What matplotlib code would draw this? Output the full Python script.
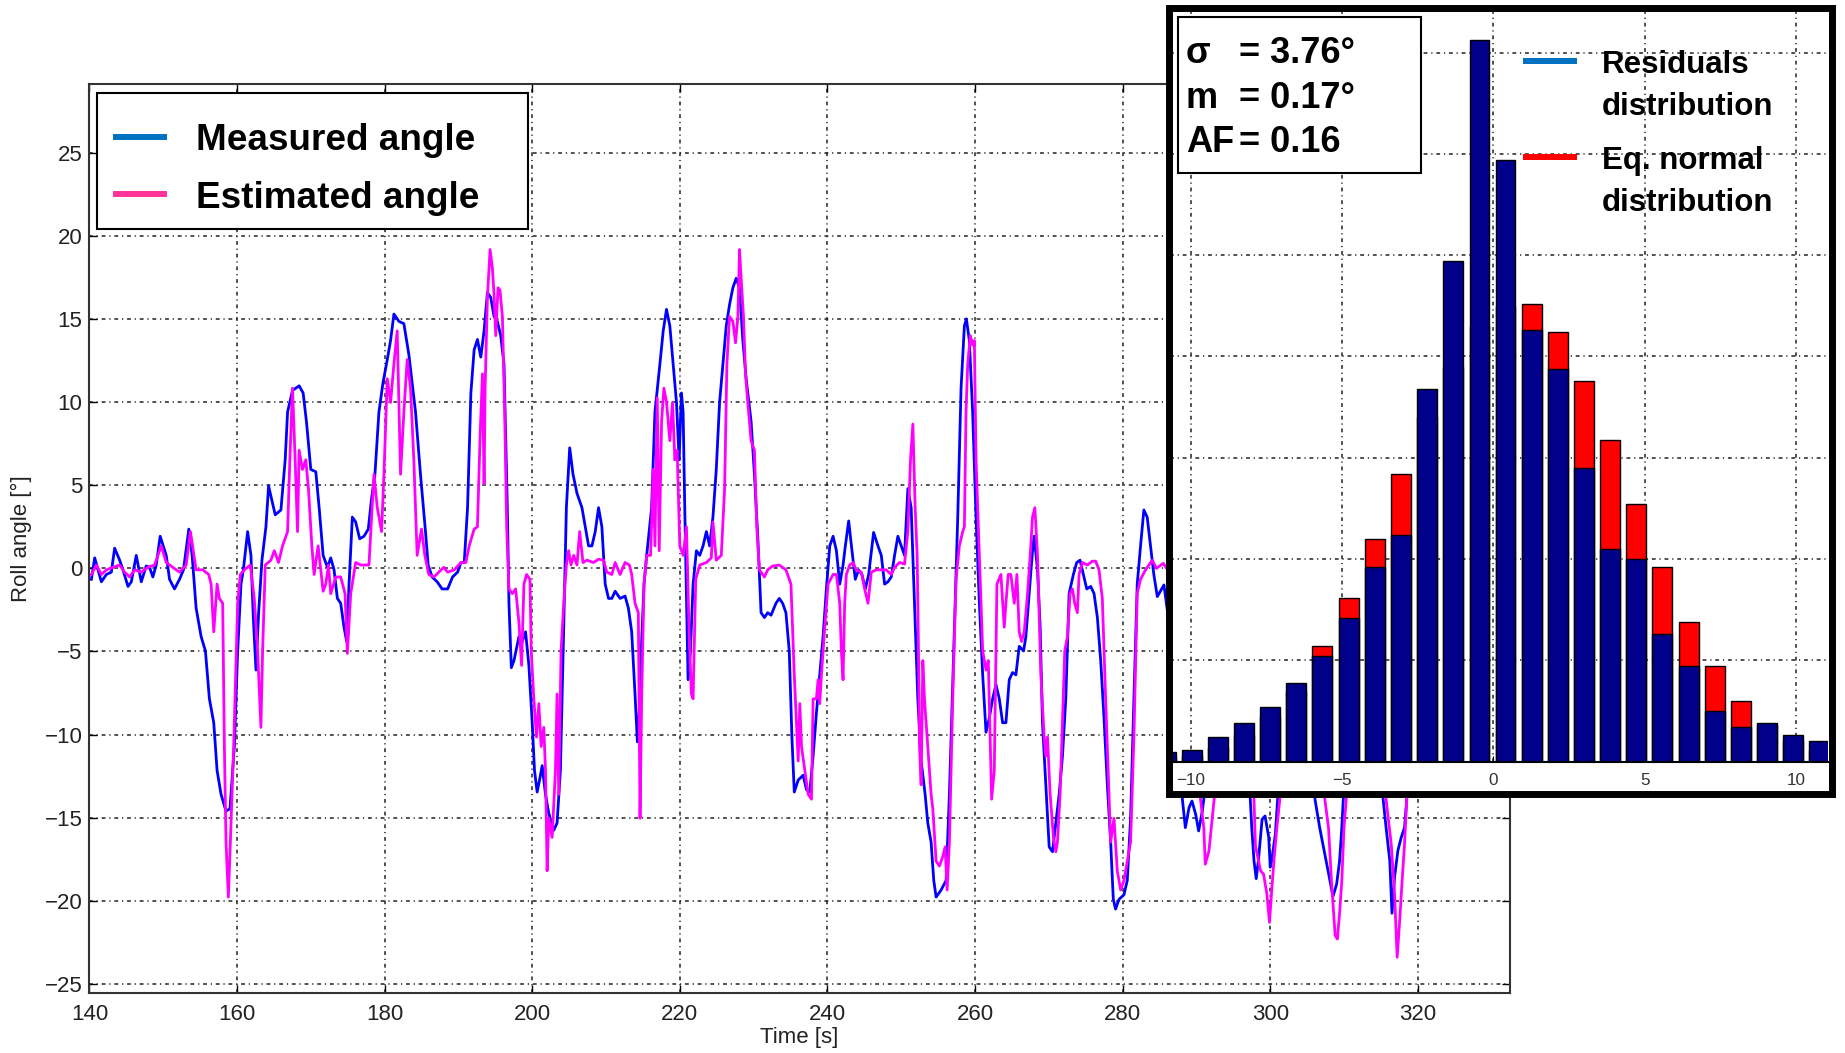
import numpy as np
import matplotlib.pyplot as plt
from matplotlib.patches import Rectangle
from matplotlib.lines import Line2D

plt.rcParams['font.family'] = ['Liberation Sans', 'DejaVu Sans']

# measured roll angle (time [s], angle [deg])
t_meas = [140.27, 140.72, 141.62, 142.30, 142.97, 143.42, 144.10, 144.55, 145.23, 145.68,
          146.35, 147.03, 147.70, 148.15, 148.60, 149.05, 149.59, 150.41, 150.86, 151.53,
          152.21, 152.75, 153.47, 153.92, 154.46, 155.14, 155.72, 156.26, 156.85, 157.30,
          157.84, 158.51, 159.05, 159.64, 160.09, 160.54, 160.86, 161.44, 161.89, 162.21,
          162.57, 162.93, 163.38, 163.92, 164.28, 164.73, 165.18, 165.95, 166.53, 166.85,
          167.52, 168.42, 168.96, 169.41, 170.00, 170.68, 171.13, 171.67, 172.25, 172.70,
          173.15, 173.60, 174.05, 174.50, 174.86, 175.18, 175.63, 176.08, 176.62, 177.21,
          177.79, 178.24, 178.69, 179.23, 179.77, 180.36, 180.81, 181.26, 181.94, 182.61,
          183.29, 184.19, 184.86, 185.54, 185.90, 186.44, 187.12, 187.79,
          188.54, 189.21, 189.89, 190.34, 190.79, 191.24, 191.69, 192.13, 192.58, 193.03,
          193.48, 193.93, 194.38, 194.83, 195.28, 195.73, 196.18, 196.63, 196.85, 197.17,
          197.53, 198.20, 198.65, 199.10, 199.55, 200.00, 200.31, 200.67, 201.12, 201.35,
          201.80, 202.25, 202.92, 203.37, 203.82, 204.27, 204.63, 205.08, 205.53, 206.07,
          206.74, 207.19, 207.64, 208.09, 208.54, 208.99, 209.44, 209.89, 210.34, 210.79,
          211.24, 211.91, 212.58, 213.03, 213.48, 213.93, 214.25, 214.61, 214.83, 215.15,
          215.51, 216.18, 216.63, 217.30, 217.75, 218.20, 218.65, 219.10, 219.55, 219.91,
          220.22, 220.45, 220.67, 221.12, 221.44, 221.80, 222.25, 222.70, 223.15, 223.60,
          224.04, 224.49, 224.94, 225.39, 225.84, 226.29, 226.74, 227.19, 227.64, 228.09,
          228.54, 228.99, 229.66, 230.11, 230.56, 231.01, 231.46, 231.91, 232.36, 233.03,
          233.48, 233.93, 234.38, 234.83, 235.19, 235.51,
          236.04, 236.71, 237.16, 237.61, 238.06, 238.51, 238.96, 239.41, 239.86, 240.32,
          240.77, 241.22, 241.67, 242.12, 242.43, 242.88, 243.33, 243.78, 244.23, 244.68,
          245.14, 245.59, 246.26, 246.85, 247.30, 247.75, 248.20, 248.65, 249.10, 249.55,
          250.00, 250.45, 250.90, 251.35, 251.80, 252.25, 252.70, 253.24, 253.60, 254.05,
          254.41, 254.73, 255.41, 256.08, 256.53, 257.12, 257.66, 258.11, 258.56, 258.83,
          259.23, 259.68, 260.14, 260.59, 261.04, 261.49, 261.94, 262.39, 262.84, 263.29,
          263.74, 264.19, 264.64, 265.09, 265.54, 265.99, 266.58, 266.89, 267.34, 267.79,
          268.02, 268.47, 268.83, 269.14, 269.59, 270.05, 270.50, 270.95, 271.40, 271.85,
          272.30, 272.75, 273.33, 273.78, 274.23, 274.68, 275.14, 275.68, 276.13, 276.58,
          277.03, 277.48, 277.93, 278.38, 278.74, 279.05, 279.50, 280.18, 280.63, 281.08,
          281.53, 281.98, 282.43, 282.88, 283.33, 283.78, 284.23, 284.70, 285.60, 286.50,
          287.30, 288.10, 288.50, 289.00, 289.40, 289.90, 290.30, 290.80, 291.00, 291.80,
          292.80, 294.00, 295.50, 296.50, 297.30, 297.50, 297.80, 298.10, 298.40, 298.90,
          299.30, 299.80, 300.00, 300.20, 300.70, 301.00, 302.00, 303.50, 305.00, 306.07,
          306.70, 307.40, 308.10, 308.50, 309.00, 309.40, 309.70, 309.90, 311.00, 312.50,
          314.30, 315.30, 315.70, 316.20, 316.50, 316.85, 317.30, 317.75, 318.20, 318.50,
          319.50, 321.00]
roll_meas = [-0.66, 0.63, -0.81, -0.37, -0.23, 1.21, 0.49, -0.09, -1.09, -0.81,
             0.78, -0.81, 0.14, 0.06, -0.52, 0.20, 1.93, 0.78, -0.66, -1.24,
             -0.66, -0.09, 2.36, 0.78, -2.39, -4.11, -4.97, -7.85, -9.29, -12.16,
             -13.60, -14.61, -14.46, -10.72, -4.97, -0.95, -0.09, 2.21, 0.78, -2.96,
             -6.12, -2.67, 0.49, 2.50, 4.95, 4.08, 3.22, 3.51, 6.53, 9.40,
             10.70, 10.98, 10.55, 8.83, 5.95, 5.81, 3.65, 0.78, 0.06, 0.63,
             -0.09, -1.81, -2.10, -3.54, -4.40, -0.95, 3.08, 2.79, 1.78, 1.93,
             2.36, 4.23, 5.66, 9.40, 11.13, 12.56, 13.71, 15.30, 14.86, 14.72,
             12.85, 9.40, 5.66, 2.21, 0.20, -0.52, -0.81, -1.24,
             -1.24, -0.52, -0.23, 0.35, 0.35, 3.65, 10.55, 13.14, 13.77, 12.71,
             14.29, 16.59, 16.30, 15.15, 14.86, 14.00, 12.28, 3.65, -2.10, -5.98,
             -5.55, -4.11, -4.40, -3.82, -5.84, -9.29, -12.16, -13.46, -12.45, -11.87,
             -13.60, -14.75, -15.76, -15.32, -12.16, -3.54, 3.65, 7.25, 5.66, 4.51,
             3.65, 2.50, 1.35, 1.35, 2.21, 3.65, 2.50, -0.95, -1.81, -1.81,
             -1.38, -1.81, -1.67, -2.39, -3.82, -7.56, -10.44, -7.85, -4.40, -0.95,
             0.78, 3.65, 9.40, 12.28, 14.29, 15.58, 14.58, 12.28, 9.98, 6.53,
             10.55, 9.40, 3.65, -6.70, -4.97, -0.95, 1.06, 0.78, 1.35, 2.21,
             1.35, 3.08, 5.95, 9.98, 12.28, 14.58, 15.87, 16.88, 17.45, 16.88,
             13.71, 11.41, 8.83, 5.66, 1.93, -2.67, -2.96, -2.67, -2.82, -2.10,
             -1.81, -2.10, -2.67, -4.97, -10.15, -13.46,
             -12.74, -12.45, -13.31, -13.46, -11.30, -8.71, -6.41, -4.11, -1.24, 1.35,
             1.93, 1.06, -0.95, 0.20, 1.35, 2.85, 1.06, -0.66, -0.09, -0.37,
             -1.24, -0.37, 2.16, 1.35, 0.78, -0.95, -0.81, -0.52, 0.78, 1.93,
             1.35, 0.78, 4.80, 3.65, -2.10, -7.85, -11.59, -13.60, -15.32, -16.47,
             -18.78, -19.78, -19.35, -18.78, -13.60, -4.97, 3.08, 10.84, 14.58, 15.01,
             13.71, 9.40, 3.08, -2.10, -6.41, -9.86, -9.00, -7.85, -6.99, -7.85,
             -9.29, -9.29, -6.70, -6.27, -6.41, -4.69, -4.97, -4.11, -1.52, 1.06,
             1.93, -0.09, -3.54, -9.29, -13.02, -16.76, -17.05, -15.32, -13.60, -11.30,
             -7.85, -1.52, -0.37, 0.35, 0.49, -0.37, -1.24, -1.09, -1.52, -2.96,
             -5.55, -9.00, -13.02, -16.47, -19.92, -20.50, -19.92, -19.64, -18.78, -15.04,
             -7.85, -0.95, 1.35, 3.51, 3.08, 1.35, -0.37, -1.70, -1.00, -4.00,
             -9.00, -13.90, -15.60, -14.40, -14.00, -14.80, -15.80, -14.60, -13.90, -8.00,
             -2.00, 0.00, -2.00, -8.00, -13.90, -15.60, -17.58, -18.67, -17.58, -15.10,
             -14.90, -16.19, -17.98, -17.58, -15.99, -13.90, -6.00, 0.00, -4.00, -13.90,
             -15.60, -17.20, -18.80, -19.75, -19.00, -17.60, -15.60, -13.90, -5.00, 0.00,
             -6.00, -13.90, -15.60, -17.58, -20.75, -18.57, -16.98, -16.19, -15.60, -13.90,
             -5.00, 0.00]

# estimated roll angle (time [s], angle [deg])
t_est = [140.27, 140.95, 141.62, 142.30, 143.20, 144.10, 144.77, 145.45, 146.13, 147.03,
         147.93, 148.83, 149.73, 150.41, 151.31, 152.21, 153.11, 153.69, 154.46, 155.36,
         156.17, 156.49, 156.85, 157.30, 157.61, 158.06, 158.29, 158.51, 158.83, 159.10,
         159.55, 160.09, 160.45, 160.99, 161.80, 162.34, 162.79, 163.24, 163.47, 163.83,
         164.59, 165.05, 165.63, 166.17, 166.85, 167.16, 167.52, 167.88, 168.20, 168.42,
         168.87, 169.32, 169.68, 170.14, 170.45, 170.99, 171.67, 172.03, 172.39, 172.70,
         173.38, 174.05, 174.64, 174.95, 175.41, 176.08, 176.76, 177.88, 178.24, 178.56,
         179.01, 179.59, 179.91, 180.36, 180.81, 181.26, 181.71, 182.16, 182.61, 183.06,
         183.51, 183.96, 184.41, 185.00, 185.45, 185.99, 186.67, 187.34, 188.02,
         188.54, 189.44, 190.34, 191.01, 191.46, 192.13, 192.58, 192.94, 193.26, 193.48,
         193.62, 193.93, 194.29, 194.61, 194.83, 195.06, 195.37, 195.64, 195.96, 196.27,
         196.54, 196.85, 197.30, 197.75, 198.20, 198.56, 198.88, 199.24, 199.69, 199.87,
         200.22, 200.58, 200.90, 201.21, 201.57, 201.80, 202.02, 202.25, 202.70, 203.15,
         203.37, 203.60, 203.91, 204.27, 204.63, 204.94, 205.26, 205.62, 206.07, 206.43,
         206.88, 207.42, 208.31, 208.99, 209.66, 210.11, 210.79, 211.24, 211.91, 212.58,
         213.17, 213.48, 213.93, 214.38, 214.61, 214.83, 215.15, 215.51, 216.04, 216.40,
         216.63, 216.94, 217.21, 217.53, 217.84, 218.20, 218.65, 219.01, 219.33, 219.64,
         220.00, 220.45, 220.90, 221.26, 221.57, 221.80, 222.16, 222.70, 223.60, 224.27,
         224.49, 224.94, 225.62, 226.07, 226.38, 226.74, 227.19, 227.55, 227.87, 228.09,
         228.31, 228.63, 228.90, 229.21, 229.66, 230.11, 230.43, 230.79, 231.46, 231.91,
         232.58, 233.48, 234.38, 235.06, 235.51, 235.96,
         236.04, 236.26, 236.49, 236.94, 237.39, 237.84, 238.06, 238.51, 238.74, 238.96,
         239.19, 239.64, 240.09, 240.77, 241.22, 241.67, 241.89, 242.12, 242.34, 242.57,
         243.02, 243.47, 243.92, 244.59, 245.05, 245.50, 245.95, 246.62, 247.30, 247.97,
         248.65, 249.10, 249.77, 250.45, 250.90, 251.26, 251.58, 251.89, 252.16, 252.34,
         252.48, 252.70, 252.93, 253.15, 253.38, 253.60, 254.05, 254.28, 254.73, 255.18,
         255.63, 255.95, 256.22, 256.53, 256.98, 257.43, 257.88, 258.33, 258.56, 258.78,
         259.01, 259.37, 259.68, 259.91, 260.14, 260.59, 261.04, 261.49, 261.80, 262.07,
         262.25, 262.61, 262.97, 263.51, 263.96, 264.19, 264.50, 264.86, 265.32, 265.68,
         265.99, 266.31, 266.67, 267.12, 267.48, 267.79, 268.11, 268.47, 268.92, 269.37,
         269.59, 269.82, 270.18, 270.63, 270.95, 271.17, 271.53, 271.85, 272.16, 272.52,
         272.88, 273.20, 273.51, 273.87, 274.10, 274.55, 275.23, 275.90, 276.35, 276.80,
         277.25, 277.70, 278.15, 278.38, 278.83, 279.28, 279.73, 280.18, 280.63, 281.08,
         281.53, 281.98, 282.43, 283.11, 283.56, 284.01, 284.60, 285.50, 287.50, 288.80,
         289.80, 290.56, 291.00, 291.20, 291.70, 292.10, 292.40, 293.20, 294.50, 296.50,
         297.00, 297.80, 298.00, 298.70, 299.10, 299.55, 299.90, 300.20, 300.50, 300.90,
         301.30, 302.30, 304.00, 306.20, 307.00, 307.40, 307.90, 308.30, 308.80, 309.10,
         309.40, 309.70, 310.00, 310.30, 311.50, 313.00, 315.00, 315.70, 316.40, 316.85,
         317.20, 317.50, 317.90, 318.20, 318.50, 319.80, 321.00]
roll_est = [-0.37, 0.20, -0.37, -0.09, 0.06, 0.20, -0.23, -0.52, -0.09, -0.23,
            0.06, 0.20, 1.35, 0.35, 0.06, -0.23, 0.20, 2.21, -0.09, -0.09,
            -0.37, -0.95, -3.82, -0.95, -1.81, -2.10, -10.72, -16.47, -19.78, -16.47,
            -10.72, -2.10, -0.37, -0.09, 0.20, -1.81, -4.97, -9.57, -4.97, 0.20,
            0.49, 1.06, 0.35, 1.35, 2.21, 6.53, 10.84, 6.53, 2.21, 7.10,
            5.95, 6.53, 4.80, 1.35, -0.37, 1.35, -1.38, -0.95, 0.20, -1.52,
            -0.52, -0.52, -1.52, -5.12, -1.52, 0.35, 0.20, 0.20, 3.08, 5.66,
            3.65, 2.21, 5.66, 11.41, 9.98, 12.28, 14.29, 5.66, 9.40, 12.56,
            10.84, 6.53, 0.78, 2.36, 0.78, -0.37, -0.52, -0.23, 0.06,
            -0.23, -0.09, 0.35, 0.35, 1.35, 2.36, 2.50, 7.96, 11.70, 5.09,
            10.84, 16.30, 19.18, 18.03, 16.45, 14.00, 16.88, 16.73, 15.15, 9.40,
            2.50, -1.24, -1.52, -1.24, -3.25, -5.84, -0.95, -0.37, -0.66, -4.97,
            -7.85, -10.15, -8.14, -10.72, -9.57, -12.16, -18.20, -15.04, -16.19, -12.16,
            -7.56, -13.60, -4.97, -2.10, 0.20, 1.06, 0.20, 0.78, 0.20, 2.21,
            0.35, 0.49, 0.35, 0.55, 0.49, -0.23, -0.37, 0.35, -0.37, 0.35,
            0.20, -0.37, -2.10, -2.67, -15.04, -7.85, -0.95, 0.78, 0.78, 5.95,
            1.35, 10.26, 1.06, 8.83, 10.84, 9.98, 7.68, 9.98, 6.53, 7.10,
            1.35, 0.78, 2.50, -3.82, -7.56, -7.85, -0.66, 0.20, 0.35, 0.63,
            2.79, 0.49, 0.78, 4.80, 12.28, 15.15, 14.86, 13.57, 15.15, 19.18,
            17.45, 15.15, 11.70, 9.98, 7.68, 7.10, 2.50, -0.09, -0.52, -0.09,
            0.14, 0.20, -0.09, -0.95, -6.41, -10.72,
            -11.59, -8.14, -10.72, -12.16, -13.60, -13.89, -7.85, -7.85, -6.70, -8.14,
            -6.41, -3.54, -0.95, -0.37, -0.37, -2.10, -4.97, -6.70, -2.10, -0.37,
            0.20, 0.35, -0.09, -0.23, -1.24, -2.10, -0.23, -0.09, -0.09, -0.09,
            -0.37, 0.06, 0.35, 0.26, 2.21, 6.53, 8.68, 3.65, 0.78, -4.97,
            -10.72, -13.02, -5.55, -7.85, -9.29, -10.72, -13.60, -14.46, -17.62, -17.91,
            -17.34, -16.76, -19.35, -16.47, -7.85, -0.66, 1.35, 2.21, 2.50, 9.40,
            12.28, 14.00, 13.43, 13.71, 6.53, 0.78, -4.97, -6.12, -5.55, -10.72,
            -13.89, -12.16, -0.95, -0.37, -3.54, -2.10, -0.37, -0.37, -2.10, -0.37,
            -3.82, -4.40, -3.82, -1.52, 0.78, 3.08, 3.65, 0.78, -6.41, -10.15,
            -11.30, -10.15, -13.60, -16.19, -17.05, -16.47, -13.60, -9.29, -4.97, -4.11,
            -1.52, -1.24, -2.10, -2.67, -0.37, 0.35, 0.20, 0.43, 0.43, -0.09,
            -1.81, -7.85, -13.60, -16.47, -15.04, -18.20, -19.35, -18.78, -17.62, -16.47,
            -10.15, -1.52, -0.66, -0.09, 0.20, 0.49, 0.00, 0.30, -1.00, -6.00,
            -11.00, -13.90, -15.60, -17.80, -17.00, -15.20, -13.90, -5.00, 0.00, -1.00,
            -6.00, -13.90, -16.70, -18.20, -18.40, -19.60, -21.30, -19.40, -17.60, -15.60,
            -13.90, -4.00, 0.00, -2.00, -8.00, -13.90, -15.60, -18.80, -22.10, -22.30,
            -20.75, -18.80, -15.60, -13.90, -4.00, 0.00, -4.00, -13.90, -16.60, -19.60,
            -23.40, -21.50, -18.60, -16.60, -13.90, -3.00, 0.00]

# residuals histogram and the equivalent normal distribution
bin_centers = [-10.83, -9.97, -9.10, -8.24, -7.37, -6.51, -5.65, -4.78, -3.92, -3.06,
               -2.19, -1.33, -0.46, 0.40, 1.27, 2.13, 2.99, 3.86, 4.72, 5.58,
               6.45, 7.31, 8.18, 9.04, 9.90, 10.77]
resid_counts = [5, 6, 12, 19, 27, 39, 52, 71, 96, 112,
                184, 247, 356, 297, 213, 194, 145, 105, 100, 63,
                47, 25, 17, 19, 13, 10]
normal_counts = [2, 3, 7, 13, 22, 35, 57, 81, 110, 142,
                 170, 195, 215, 225, 226, 212, 188, 159, 127, 96,
                 69, 47, 30, 18, 10, 6]

sigma, mean_res, af = 3.76, 0.17, 0.16

W, H = 1845, 1053
fig = plt.figure(figsize=(W / 100, H / 100), dpi=100)


def fx(px):
    return px / W


def fy(py):
    return 1 - py / H


def box(x0, y0, x1, y1):
    # figure-fraction rectangle from pixel corners (top-left origin)
    return (fx(x0), fy(y1)), fx(x1) - fx(x0), fy(y0) - fy(y1)


grid_style = dict(color='#222222', linestyle=(0, (2.5, 2.5, 0.8, 2.5)), linewidth=1.1)
txt_dark = '#222222'

# main time plot
ax = fig.add_axes([fx(89.4), fy(992.5), fx(1509.7) - fx(89.4), fy(84) - fy(992.5)])
ax.plot(t_meas, roll_meas, color='#0000FF', lw=2)
ax.plot(t_est, roll_est, color='#FF00FF', lw=2)
ax.set_xlim(140, 332.45)
ax.set_ylim(-25.52, 29.14)
ax.set_xticks(np.arange(140, 321, 20))
ax.set_yticks(np.arange(-25, 26, 5))
ax.grid(True, **grid_style)
ax.set_axisbelow(True)
ax.tick_params(direction='in', length=6, width=1, top=True, right=True,
               labelsize=16, labelcolor=txt_dark)
ax.tick_params(axis='x', pad=8)
ax.tick_params(axis='y', pad=5)
for s in ax.spines.values():
    s.set_linewidth(1.5)
    s.set_color('#333333')
ax.set_xlabel('Time [s]', fontsize=16, labelpad=2, color=txt_dark)
ax.set_ylabel('Roll angle [°]', fontsize=16, labelpad=9, color=txt_dark)

# legend of the time plot
xy, w, h = box(96.9, 93.3, 528, 229.3)
fig.add_artist(Rectangle(xy, w, h, transform=fig.transFigure, facecolor='white',
                         edgecolor='black', lw=1.5, zorder=2))
for ypx, col, lab in [(136.7, '#0070C0', 'Measured angle'), (194.3, '#FF3399', 'Estimated angle')]:
    fig.add_artist(Line2D([fx(116), fx(164)], [fy(ypx)] * 2, transform=fig.transFigure,
                          color=col, lw=4.3, zorder=3))
    fig.text(fx(196.4), fy(ypx + 13.3), lab, fontsize=26.6, fontweight='bold', va='baseline')

# inset panel: white card with a heavy frame
xy, w, h = box(1168.5, 8.5, 1831.5, 793.5)
fig.add_artist(Rectangle(xy, w, h, transform=fig.transFigure, facecolor='white',
                         edgecolor='none', zorder=1))

axh = fig.add_axes([fx(1170), fy(761.7), fx(1828) - fx(1170), fy(12) - fy(761.7)], zorder=2)
axh.bar(bin_centers, normal_counts, width=0.66, color='#FF0000', edgecolor='black', lw=1)
axh.bar(bin_centers, resid_counts, width=0.66, color='#00008B', edgecolor='black', lw=1)
axh.set_xlim(-10.69, 11.06)
axh.set_ylim(0, 370)
axh.set_xticks([-10, -5, 0, 5, 10])
axh.set_yticks(np.arange(50, 351, 50))
axh.set_yticklabels([])
axh.tick_params(axis='y', length=0)
axh.tick_params(axis='x', direction='in', length=4, labelsize=12.3, pad=8, labelcolor='#333333')
axh.grid(True, **grid_style)
axh.set_axisbelow(True)
for side in ['top', 'left', 'right']:
    axh.spines[side].set_visible(False)
axh.spines['bottom'].set_linewidth(1.5)

fig.add_artist(Rectangle(xy, w, h, transform=fig.transFigure, fill=False,
                         edgecolor='black', lw=5, zorder=3))

# statistics box
xy2, w2, h2 = box(1177.5, 17.3, 1420.8, 173.3)
fig.add_artist(Rectangle(xy2, w2, h2, transform=fig.transFigure, facecolor='white',
                         edgecolor='black', lw=1.5, zorder=4))
stats = [('σ', f'= {sigma:.2f}°', 63.3), ('m', f'= {mean_res:.2f}°', 108.3), ('AF', f'= {af:.2f}', 151.7)]
for name, val, ypx in stats:
    fig.text(fx(1186), fy(ypx), name, fontsize=26, fontweight='bold', va='baseline', zorder=5)
    fig.text(fx(1238.6), fy(ypx), val, fontsize=26, fontweight='bold', va='baseline', zorder=5)

# inset legend
for ypx, col, lines in [(60.7, '#0070C0', ['Residuals', 'distribution']),
                        (156.7, '#FF0000', ['Eq. normal', 'distribution'])]:
    fig.add_artist(Line2D([fx(1526), fx(1574)], [fy(ypx)] * 2, transform=fig.transFigure,
                          color=col, lw=4.3, zorder=5))
    for i, line in enumerate(lines):
        fig.text(fx(1602), fy(ypx + 12.6 + i * 41.7), line, fontsize=22.5,
                 fontweight='bold', va='baseline', zorder=5)

fig.savefig('out.png', dpi=100)
